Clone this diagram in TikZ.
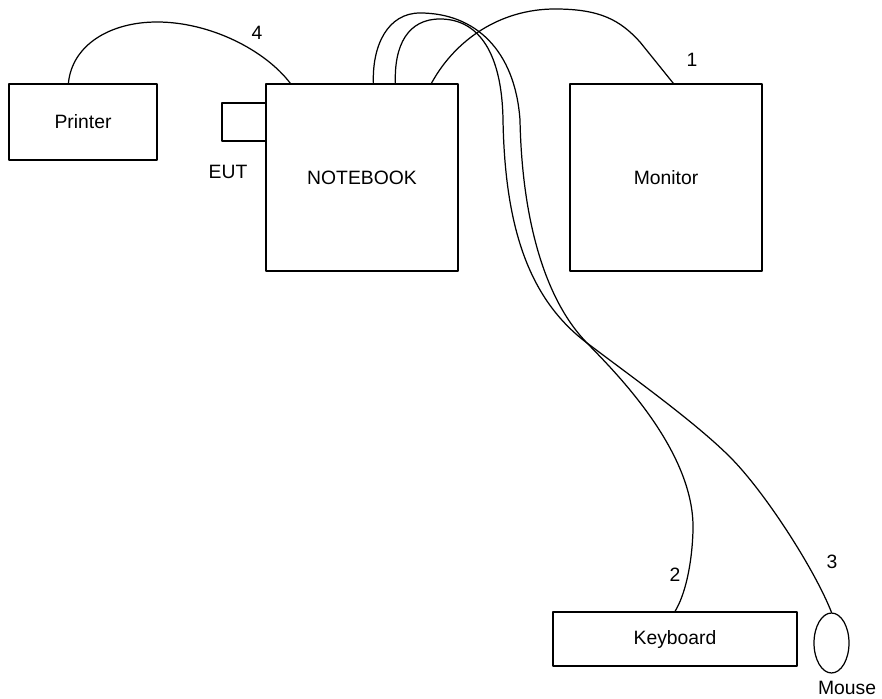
\documentclass[tikz,border=0pt]{standalone}
\usepackage{fontspec}
\setmainfont{Liberation Sans}
\usetikzlibrary{shapes.geometric}
\begin{document}
\begin{tikzpicture}[x=0.02cm,y=-0.02cm,font=\fontsize{11}{13}\selectfont,line join=round,line cap=round,
		unit/.style={draw,line width=0.7pt,inner sep=0pt},
		cable/.style={line width=0.7pt}]
	\useasboundingbox (0,0) rectangle (882,699);
	\node[unit,minimum width=2.96cm,minimum height=1.52cm] (printer) at (83,122) {Printer};
	\node[unit,minimum width=0.88cm,minimum height=0.76cm] (eut) at (244,122) {};
	\node[unit,minimum width=3.84cm,minimum height=3.74cm] (nb) at (362,177.5) {NOTEBOOK};
	\node[unit,minimum width=3.84cm,minimum height=3.74cm] (mon) at (666,177.5) {Monitor};
	\node[unit,minimum width=4.88cm,minimum height=1.08cm] (kb) at (675,639) {Keyboard};
	\node[unit,ellipse,minimum width=0.7cm,minimum height=1.2cm] (ms) at (831.5,643) {};
	\node (eutlabel) at (228,172) {EUT};
	\node (mslabel) at (847,688) {Mouse};
	\node (l1) at (692,60) {1};
	\node (l2) at (675,575) {2};
	\node (l3) at (832,562) {3};
	\node (l4) at (257,33) {4};
	\coordinate (p4) at ([xshift=1.2cm]printer.north west);
	\coordinate (n4) at ([xshift=0.5cm]nb.north west);
	\coordinate (n2) at ([xshift=2.16cm]nb.north west);
	\coordinate (n3) at ([xshift=2.6cm]nb.north west);
	\coordinate (n1) at ([xshift=3.32cm]nb.north west);
	\coordinate (m1) at ([xshift=2.08cm]mon.north west);
	\draw[cable] (p4) .. controls (72,45) and (110,22) .. (157,22) .. controls (210,22) and (265,50) .. (n4);
	\draw[cable] (n1) .. controls (455,40) and (500,9) .. (555,9) .. controls (600,9) and (620,20) .. (640,42) -- (m1);
	\draw[cable] (n2) .. controls (372,45) and (388,13) .. (420,13) .. controls (475,13) and (515,50) .. (520,120)
		.. controls (522,220) and (545,300) .. (587,343) .. controls (612,369) and (695,450) .. (693,530)
		.. controls (692,565) and (685,595) .. (kb.north);
	\draw[cable] (n3) .. controls (394,45) and (408,19) .. (440,19) .. controls (480,19) and (502,55) .. (503,120)
		.. controls (505,230) and (530,300) .. (587,343) .. controls (632,377) and (695,422) .. (730,457)
		.. controls (765,492) and (815,570) .. (ms.north);
\end{tikzpicture}
\end{document}
